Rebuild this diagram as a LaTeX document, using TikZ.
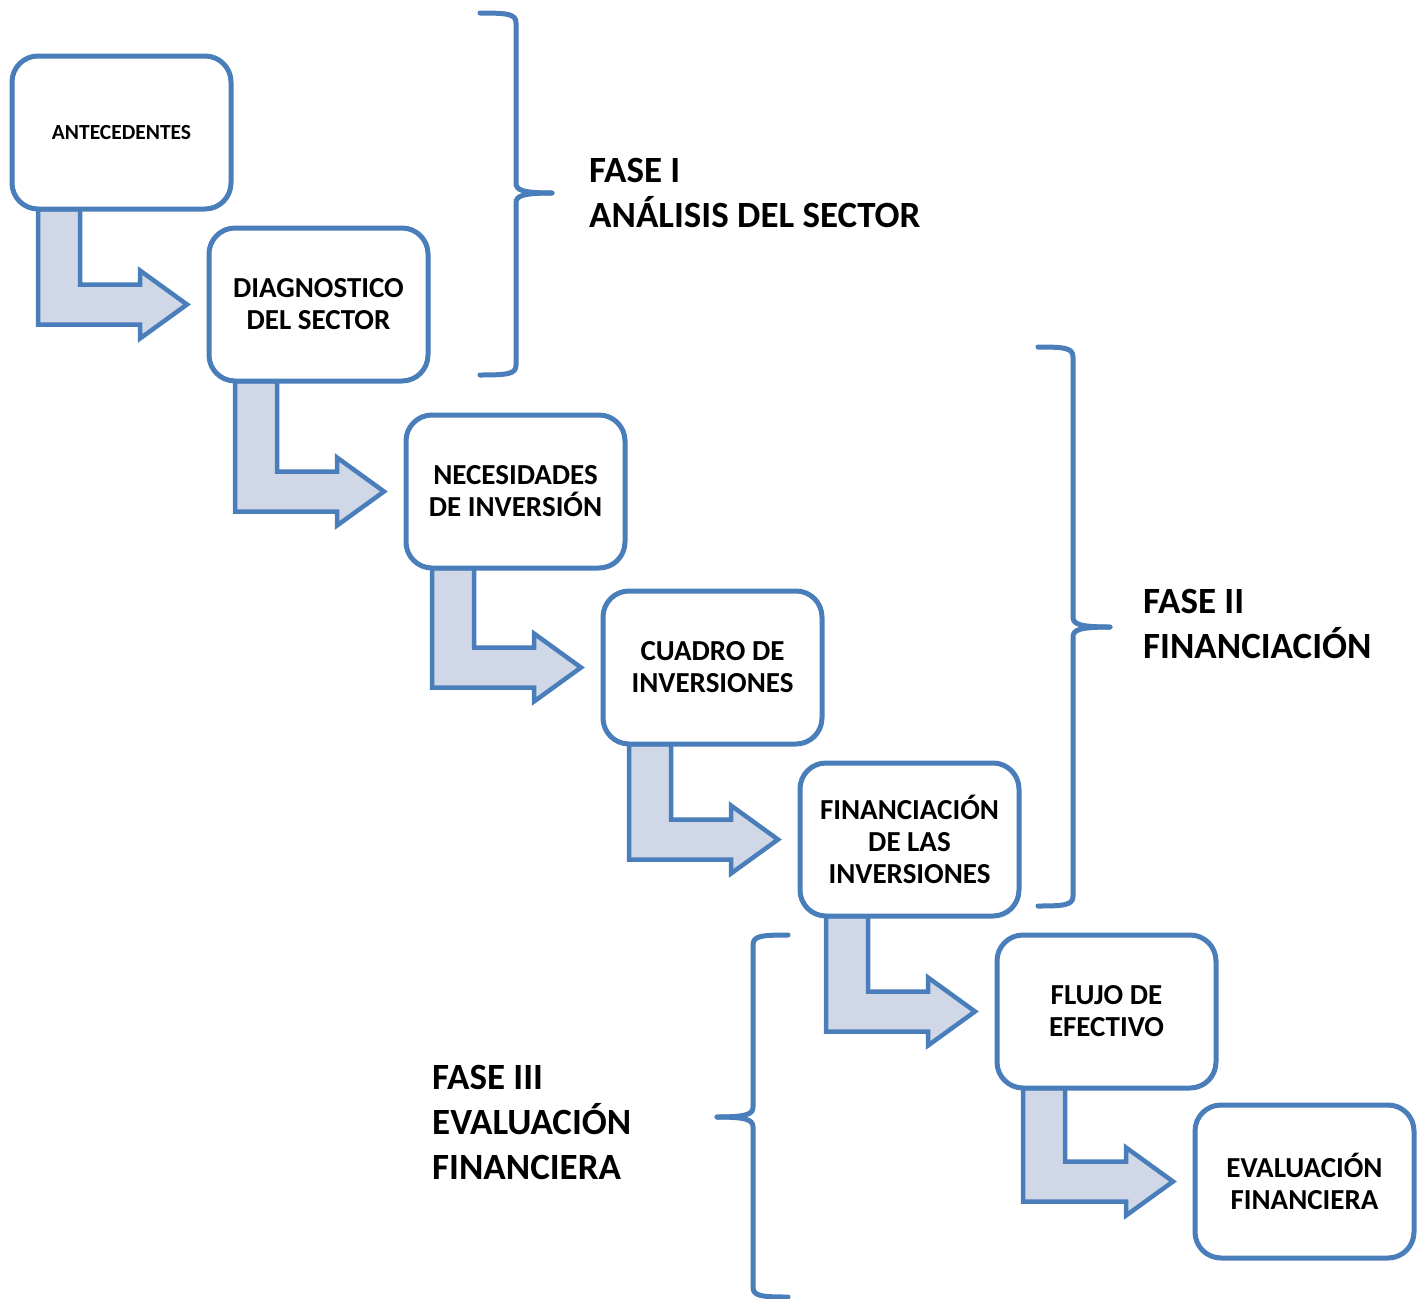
\documentclass[tikz,border=0pt]{standalone}
\usepackage{fontspec}
\setmainfont{Carlito}
\usetikzlibrary{calc}

\definecolor{edgeblue}{RGB}{74,126,187}
\definecolor{arrowfill}{RGB}{208,216,232}

\pgfdeclarelayer{back}
\pgfsetlayers{back,main}

\tikzset{
  stepbox/.style={draw=edgeblue, line width=5pt, fill=white, rounded corners=26pt,
    minimum width=219pt, minimum height=153pt, outer sep=0pt, inner sep=0pt,
    anchor=north west, align=center, font=\bfseries\fontsize{29}{32}\selectfont},
  bentarrow/.style={draw=edgeblue, fill=arrowfill, line width=4.5pt, line join=miter},
  phase/.style={anchor=west, align=left, inner sep=0pt,
    font=\bfseries\fontsize{37}{45}\selectfont},
  brace/.style={draw=edgeblue, line width=5pt, line cap=round, line join=round},
}

% bent block arrow: leaves the bottom of box #1, turns right and points at box #2
\newcommand\bentlink[2]{%
  \coordinate (from-sw) at (#1.south west);
  \coordinate (tip) at ($(#2.west)+(-22,0)$);
  \begin{pgfonlayer}{back}
    \draw[bentarrow] ($(from-sw)+(26,0)$) |- ($(tip)+(-47,20)$)
      -- ($(tip)+(-47,34)$) -- (tip) -- ($(tip)+(-47,-34)$)
      -- ($(tip)+(-47,-20)$) -| ($(from-sw)+(68,0)$) -- cycle;
  \end{pgfonlayer}}

% curly brace: spine x=#1, top #2, bottom #3, middle #4, hook ends x=#5, tip x=#6, side sign #7
\newcommand\curlybrace[7]{%
  \draw[brace] (#5,#2) .. controls ({#1-8*#7},#2) and (#1,{#2+1}) .. (#1,{#2+10})
    -- (#1,{#4-10}) .. controls (#1,{#4-3}) and ({#1+6*#7},#4) .. (#6,#4);
  \draw[brace] (#6,#4) .. controls ({#1+6*#7},#4) and (#1,{#4+3}) .. (#1,{#4+10})
    -- (#1,{#3-10}) .. controls (#1,{#3-1}) and ({#1-8*#7},#3) .. (#5,#3);}

\begin{document}
\begin{tikzpicture}[x=1pt, y=-1pt]
  \useasboundingbox (0,0) rectangle (1425,1299);

  % process steps
  \node[stepbox, font=\bfseries\fontsize{21.5}{26}\selectfont] (b1) at (12,56) {ANTECEDENTES};
  \node[stepbox] (b2) at (209,228) {DIAGNOSTICO\\DEL SECTOR};
  \node[stepbox] (b3) at (406,415) {NECESIDADES\\DE INVERSIÓN};
  \node[stepbox] (b4) at (603,591) {CUADRO DE\\INVERSIONES};
  \node[stepbox] (b5) at (800,763) {FINANCIACIÓN\\DE LAS\\INVERSIONES};
  \node[stepbox] (b6) at (997,935) {FLUJO DE\\EFECTIVO};
  \node[stepbox] (b7) at (1195,1105) {EVALUACIÓN\\FINANCIERA};

  % links between consecutive steps
  \bentlink{b1}{b2}
  \bentlink{b2}{b3}
  \bentlink{b3}{b4}
  \bentlink{b4}{b5}
  \bentlink{b5}{b6}
  \bentlink{b6}{b7}

  % phase braces
  \curlybrace{516}{13}{375}{193}{480}{552}{1}
  \curlybrace{1073}{347}{906}{627}{1038}{1110}{1}
  \curlybrace{753}{935}{1297}{1117}{788}{717}{-1}

  % phase labels
  \node[phase] (p1) at (589,193) {FASE I\\ANÁLISIS DEL SECTOR};
  \node[phase] (p2) at (1143,624) {FASE II\\FINANCIACIÓN};
  \node[phase] (p3) at (432,1122) {FASE III\\EVALUACIÓN\\FINANCIERA};
\end{tikzpicture}
\end{document}
